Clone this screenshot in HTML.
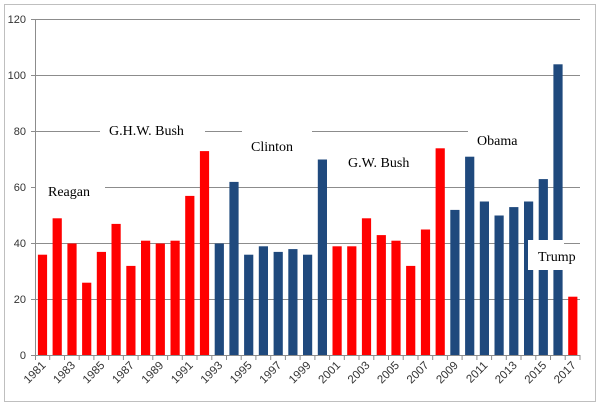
<!DOCTYPE html>
<html><head><style>body{margin:0;background:#fff}svg{display:block}</style></head><body>
<svg width="600" height="407" xmlns="http://www.w3.org/2000/svg">
<rect x="4.5" y="4.5" width="591" height="397" fill="#fff" stroke="#bfbfbf"/>
<g stroke="#8c8c8c" stroke-width="1">
<line x1="31" x2="580" y1="19.5" y2="19.5"/>
<line x1="31" x2="580" y1="75.5" y2="75.5"/>
<line x1="31" x2="580" y1="131.5" y2="131.5"/>
<line x1="31" x2="580" y1="187.5" y2="187.5"/>
<line x1="31" x2="580" y1="243.5" y2="243.5"/>
<line x1="31" x2="580" y1="299.5" y2="299.5"/>
</g>
<g fill="#fff">
<rect x="100" y="120" width="105" height="22"/>
<rect x="242" y="120" width="70" height="38"/>
<rect x="468" y="120" width="112" height="22"/>
<rect x="35" y="176" width="70" height="22"/>
</g>
<g fill="#ff0000">
<rect x="37.9" y="254.7" width="9.2" height="100.8"/>
<rect x="52.6" y="218.3" width="9.2" height="137.2"/>
<rect x="67.4" y="243.5" width="9.2" height="112"/>
<rect x="82.1" y="282.7" width="9.2" height="72.8"/>
<rect x="96.8" y="251.9" width="9.2" height="103.6"/>
<rect x="111.5" y="223.9" width="9.2" height="131.6"/>
<rect x="126.3" y="265.9" width="9.2" height="89.6"/>
<rect x="141.0" y="240.7" width="9.2" height="114.8"/>
<rect x="155.7" y="243.5" width="9.2" height="112"/>
<rect x="170.5" y="240.7" width="9.2" height="114.8"/>
<rect x="185.2" y="195.9" width="9.2" height="159.6"/>
<rect x="199.9" y="151.1" width="9.2" height="204.4"/>
<rect x="332.5" y="246.3" width="9.2" height="109.2"/>
<rect x="347.2" y="246.3" width="9.2" height="109.2"/>
<rect x="361.9" y="218.3" width="9.2" height="137.2"/>
<rect x="376.7" y="235.1" width="9.2" height="120.4"/>
<rect x="391.4" y="240.7" width="9.2" height="114.8"/>
<rect x="406.1" y="265.9" width="9.2" height="89.6"/>
<rect x="420.9" y="229.5" width="9.2" height="126"/>
<rect x="435.6" y="148.3" width="9.2" height="207.2"/>
<rect x="568.2" y="296.7" width="9.2" height="58.8"/>
</g>
<g fill="#1f497d">
<rect x="214.7" y="243.5" width="9.2" height="112"/>
<rect x="229.4" y="181.9" width="9.2" height="173.6"/>
<rect x="244.1" y="254.7" width="9.2" height="100.8"/>
<rect x="258.8" y="246.3" width="9.2" height="109.2"/>
<rect x="273.6" y="251.9" width="9.2" height="103.6"/>
<rect x="288.3" y="249.1" width="9.2" height="106.4"/>
<rect x="303.0" y="254.7" width="9.2" height="100.8"/>
<rect x="317.8" y="159.5" width="9.2" height="196"/>
<rect x="450.3" y="209.9" width="9.2" height="145.6"/>
<rect x="465.1" y="156.7" width="9.2" height="198.8"/>
<rect x="479.8" y="201.5" width="9.2" height="154"/>
<rect x="494.5" y="215.5" width="9.2" height="140"/>
<rect x="509.2" y="207.1" width="9.2" height="148.4"/>
<rect x="524.0" y="201.5" width="9.2" height="154"/>
<rect x="538.7" y="179.1" width="9.2" height="176.4"/>
<rect x="553.4" y="64.3" width="9.2" height="291.2"/>
</g>
<rect x="528" y="240" width="36" height="30" fill="#fff"/>
<line x1="31" x2="580" y1="355.5" y2="355.5" stroke="#8c8c8c"/>
<line x1="35.5" x2="35.5" y1="19" y2="356" stroke="#8c8c8c"/>
<path stroke="#8c8c8c" fill="none" d="M35.5 355v5M49.7 355v5M64.5 355v5M79.2 355v5M93.9 355v5M108.6 355v5M123.4 355v5M138.1 355v5M152.8 355v5M167.6 355v5M182.3 355v5M197 355v5M211.8 355v5M226.5 355v5M241.2 355v5M255.9 355v5M270.7 355v5M285.4 355v5M300.1 355v5M314.9 355v5M329.6 355v5M344.3 355v5M359 355v5M373.8 355v5M388.5 355v5M403.2 355v5M418 355v5M432.7 355v5M447.4 355v5M462.1 355v5M476.9 355v5M491.6 355v5M506.3 355v5M521 355v5M535.8 355v5M550.5 355v5M565.2 355v5M580 355v5"/>
<g font-family="Liberation Sans, sans-serif" font-size="11" fill="#333" text-anchor="end">
<text x="26" y="359">0</text><text x="26" y="303">20</text><text x="26" y="247">40</text><text x="26" y="191">60</text><text x="26" y="135">80</text><text x="26" y="79">100</text><text x="26" y="23">120</text>
</g>
<g font-family="Liberation Serif, serif" font-size="14" fill="#000">
<text x="109" y="135">G.H.W. Bush</text>
<text x="251" y="151">Clinton</text>
<text x="348" y="167">G.W. Bush</text>
<text x="477" y="145">Obama</text>
<text x="48" y="196">Reagan</text>
<text x="538" y="261">Trump</text>
</g>
<g font-family="Liberation Sans, sans-serif" font-size="11.5" fill="#333" text-anchor="end">
<text transform="translate(46.4,366) rotate(-45)">1981</text>
<text transform="translate(75.9,366) rotate(-45)">1983</text>
<text transform="translate(105.3,366) rotate(-45)">1985</text>
<text transform="translate(134.8,366) rotate(-45)">1987</text>
<text transform="translate(164.2,366) rotate(-45)">1989</text>
<text transform="translate(193.7,366) rotate(-45)">1991</text>
<text transform="translate(223.2,366) rotate(-45)">1993</text>
<text transform="translate(252.6,366) rotate(-45)">1995</text>
<text transform="translate(282.1,366) rotate(-45)">1997</text>
<text transform="translate(311.5,366) rotate(-45)">1999</text>
<text transform="translate(341,366) rotate(-45)">2001</text>
<text transform="translate(370.4,366) rotate(-45)">2003</text>
<text transform="translate(399.9,366) rotate(-45)">2005</text>
<text transform="translate(429.4,366) rotate(-45)">2007</text>
<text transform="translate(458.8,366) rotate(-45)">2009</text>
<text transform="translate(488.3,366) rotate(-45)">2011</text>
<text transform="translate(517.7,366) rotate(-45)">2013</text>
<text transform="translate(547.2,366) rotate(-45)">2015</text>
<text transform="translate(576.6,366) rotate(-45)">2017</text>
</g>
</svg>
</body></html>
